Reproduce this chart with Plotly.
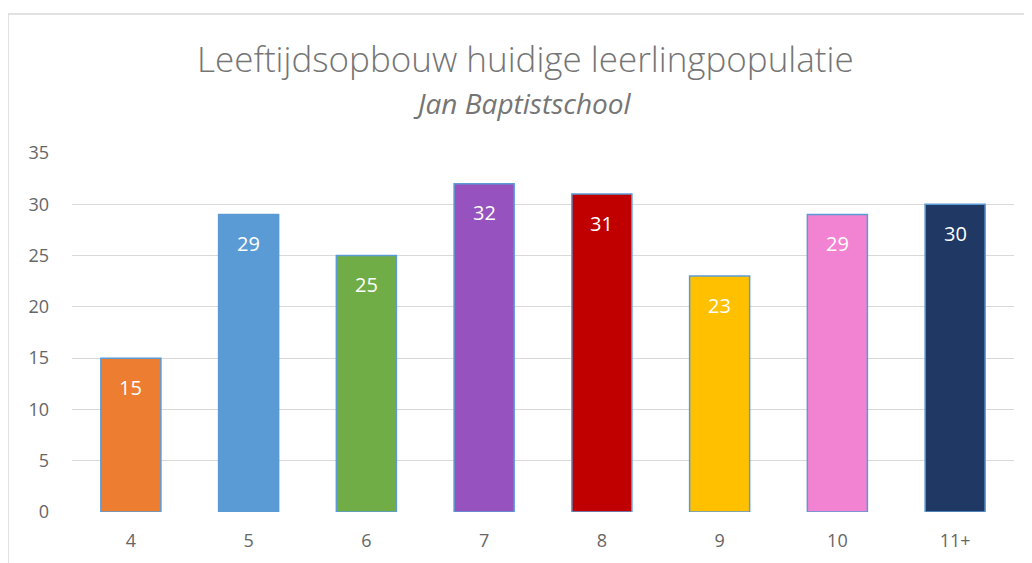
import plotly.graph_objects as go

categories = ["4", "5", "6", "7", "8", "9", "10", "11+"]
values = [15, 29, 25, 32, 31, 23, 29, 30]
colors = ["#ED7D31", "#5B9BD5", "#70AD47", "#9652BE", "#C00000", "#FFC000", "#F283D2", "#203864"]
y_ticks = [0, 5, 10, 15, 20, 25, 30, 35]

# page body has an 8px margin, so figure coords = screen coords - 8
OFF = 8
W, H = 1032, 563
L, T = 72 - OFF, 153 - OFF
R = W + OFF - 1014
B = H + OFF - 512
pw, ph = W - L - R, H - T - B

def px_x(x):
    return (x - OFF - L) / pw

def px_y(y):
    return (H - B - (y - OFF)) / ph

FONT = "Open Sans"

fig = go.Figure()
fig.add_trace(go.Bar(
    x=categories, y=values,
    marker=dict(color=colors, line=dict(color="#5B9BD5", width=1.5)),
    hoverinfo="skip",
))

annotations = []
for i, v in enumerate(values):
    annotations.append(dict(x=i, y=v, xref="x", yref="y", text=str(v), showarrow=False,
                            yshift=-29, font=dict(family=FONT, size=20, color="white")))

annotations.append(dict(x=px_x(525), y=px_y(59), xref="paper", yref="paper",
                        text="Leeftijdsopbouw huidige leerlingpopulatie", showarrow=False,
                        xanchor="center", yanchor="middle",
                        font=dict(family=FONT, size=35, color="#757575", weight=300)))
annotations.append(dict(x=px_x(522), y=px_y(103), xref="paper", yref="paper",
                        text="<i>Jan Baptistschool</i>", showarrow=False,
                        xanchor="center", yanchor="middle",
                        font=dict(family=FONT, size=28, color="#757575")))

fig.update_layout(
    width=W, height=H,
    margin=dict(l=L, r=R, t=T, b=B, autoexpand=False),
    paper_bgcolor="white", plot_bgcolor="white",
    bargap=0.49,
    showlegend=False,
    annotations=annotations,
    shapes=[dict(type="rect", xref="paper", yref="paper",
                 x0=px_x(8), y0=px_y(H + 40), x1=px_x(W + 40), y1=px_y(14),
                 line=dict(color="#D9D9D9", width=1.5), fillcolor="rgba(0,0,0,0)", layer="below")],
    xaxis=dict(type="category", range=[-0.5, len(categories) - 0.5],
               showgrid=False, showline=False, zeroline=False,
               ticks="", tickfont=dict(family=FONT, size=18, color="#666666"),
               ticklabelstandoff=16),
    yaxis=dict(range=[0, 35], tickvals=y_ticks, showgrid=True, gridcolor="#D9D9D9", gridwidth=1.3,
               zeroline=False, showline=False, ticks="",
               tickfont=dict(family=FONT, size=18, color="#666666"),
               ticklabelstandoff=22),
)

fig.write_html("out.html")
